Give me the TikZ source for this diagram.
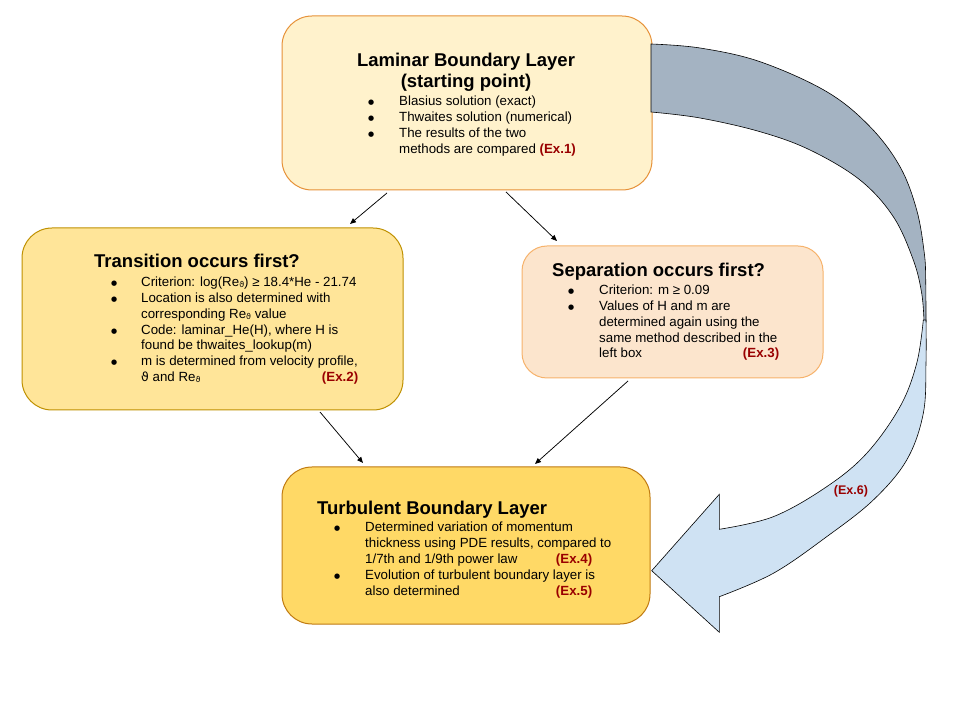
\documentclass[tikz,border=0pt]{standalone}
\usepackage{fontspec}
\setmainfont{Liberation Sans}
\newfontfamily\dejavu{DejaVu Sans}
\usetikzlibrary{arrows.meta}
\definecolor{exred}{HTML}{990000}
\definecolor{topfill}{HTML}{FFF2CC}
\definecolor{topdraw}{HTML}{E69138}
\definecolor{leftfill}{HTML}{FFE599}
\definecolor{leftdraw}{HTML}{BF9000}
\definecolor{rightfill}{HTML}{FCE5CD}
\definecolor{rightdraw}{HTML}{F6B26B}
\definecolor{botfill}{HTML}{FFD966}
\definecolor{botdraw}{HTML}{C07A10}
\definecolor{ribbongrey}{HTML}{A4B3C2}
\definecolor{ribbonblue}{HTML}{CFE2F3}
\newcommand{\exlab}[1]{\textcolor{exred}{\textbf{(Ex.#1)}}}
\newcommand{\thsub}{Re\raisebox{-0.8pt}{\dejavu\fontsize{8}{8}\selectfont ϑ}}
\newcommand{\thfull}{{\dejavu\fontsize{12.5}{15}\selectfont ϑ}}
\newcommand{\blt}{\raisebox{1.2pt}{\dejavu\fontsize{7}{7}\selectfont ●}}
\newcommand{\bodyfnt}{\fontsize{13.3}{15.75}\selectfont}
\newcommand{\titlefnt}{\fontsize{18.5}{21}\selectfont\bfseries}
\begin{document}
\begin{tikzpicture}[x=1pt,y=1pt,
  box/.style={draw, line width=1pt, rounded corners=#1, inner sep=0pt},
  box/.default=30pt,
  listtext/.style={anchor=base west, inner sep=0pt, font=\bodyfnt},
  titletext/.style={anchor=base west, inner sep=0pt, font=\titlefnt},
  conn/.style={draw=black, line width=0.75pt, -{Triangle[length=6pt,width=5pt]}},
  ribbon/.style={draw=black, line width=0.6pt, line join=miter}
]
\useasboundingbox (0,0) rectangle (960,720);

% boxes
\node[box, fill=topfill, draw=topdraw, minimum width=370pt, minimum height=174pt] (top) at (467,617) {};
\node[box, fill=leftfill, draw=leftdraw, minimum width=381pt, minimum height=182pt] (left) at (212.5,401) {};
\node[box=25pt, fill=rightfill, draw=rightdraw, minimum width=301pt, minimum height=132pt] (right) at (672.5,408) {};
\node[box, fill=botfill, draw=botdraw, minimum width=368pt, minimum height=157pt] (bottom) at (466,174.5) {};

% titles
\node[anchor=base, inner sep=0pt, font=\titlefnt] (toptitle) at (466,653)
  {\begin{tabular}[t]{@{}c@{}}Laminar Boundary Layer\\(starting point)\end{tabular}};
\node[titletext] (lefttitle) at (94,452) {Transition occurs first?};
\node[titletext] (righttitle) at (552,443) {Separation occurs first?};
\node[titletext] (bottitle) at (317,205) {Turbulent Boundary Layer};

% lists
\node[listtext] (toplist) at (368,614) {\begin{tabular}[t]{@{}p{31pt}@{}l@{}}
\blt & Blasius solution (exact)\\
\blt & Thwaites solution (numerical)\\
\blt & The results of the two\\
 & methods are compared \exlab{1}
\end{tabular}};

\node[listtext] (leftlist) at (111,433) {\begin{tabular}[t]{@{}p{30pt}@{}l@{}}
\blt & Criterion: log(\thsub) ≥ 18.4*He - 21.74\\
\blt & Location is also determined with\\
 & corresponding \thsub{} value\\
\blt & Code: laminar\_He(H), where H is\\
 & found be thwaites\_lookup(m)\\
\blt & m is determined from velocity profile,\\
 & \makebox[217pt][l]{\thfull{} and \thsub\hfill\exlab{2}}
\end{tabular}};

\node[listtext] (rightlist) at (568,425) {\begin{tabular}[t]{@{}p{31pt}@{}l@{}}
\blt & Criterion: m ≥ 0.09\\
\blt & Values of H and m are\\
 & determined again using the\\
 & same method described in the\\
 & \makebox[180pt][l]{left box\hfill\exlab{3}}
\end{tabular}};

\node[listtext] (botlist) at (334,188) {\begin{tabular}[t]{@{}p{31pt}@{}l@{}}
\blt & Determined variation of momentum\\
 & thickness using PDE results, compared to\\
 & \makebox[227pt][l]{1/7th and 1/9th power law\hfill\exlab{4}}\\
\blt & Evolution of turbulent boundary layer is\\
 & \makebox[227pt][l]{also determined\hfill\exlab{5}}
\end{tabular}};

% connectors
\coordinate (a1s) at (387,527);
\coordinate (a1e) at (350,496);
\coordinate (a2s) at (506,528);
\coordinate (a2e) at (557,479);
\coordinate (a3s) at (320,308);
\coordinate (a3e) at (363,257);
\coordinate (a4s) at (628,339);
\coordinate (a4e) at (535,256);
\draw[conn] (a1s) -- (a1e);
\draw[conn] (a2s) -- (a2e);
\draw[conn] (a3s) -- (a3e);
\draw[conn] (a4s) -- (a4e);

% big curved arrow: back (grey) band
\filldraw[ribbon, fill=ribbongrey]
  plot[smooth, tension=0.6] coordinates {(651,676) (700,672) (760,658.3) (826.7,628.3) (870,593.3) (900,553.3) (916.7,510) (924.3,466.7) (925.7,440) (926,398)}
  -- plot[smooth, tension=0.6] coordinates {(924,398.3) (921.7,426.7) (913.3,460) (893.3,503.3) (860,540) (810,570) (760,588.3) (700,602) (651,608)}
  -- cycle;
% front (blue) band with head
\filldraw[ribbon, fill=ribbonblue]
  plot[smooth, tension=0.6] coordinates {(923.3,400) (916.7,356.7) (900,313.3) (866.7,266.7) (826.7,233.3) (773.3,203.3) (719.3,190.7)}
  -- (719.3,225.7) -- (651.7,149.3) -- (719.3,87.7) -- (719.3,123.3)
  -- plot[smooth, tension=0.6] coordinates {(719.3,123.3) (773.3,146.7) (826.7,183.3) (873.3,220) (906.7,260) (923.3,306.7) (926,357) (926,400)}
  -- cycle;
\node[inner sep=0pt, font=\fontsize{12.5}{15}\selectfont\bfseries, text=exred] (ex6) at (851,229) {(Ex.6)};
\end{tikzpicture}
\end{document}
